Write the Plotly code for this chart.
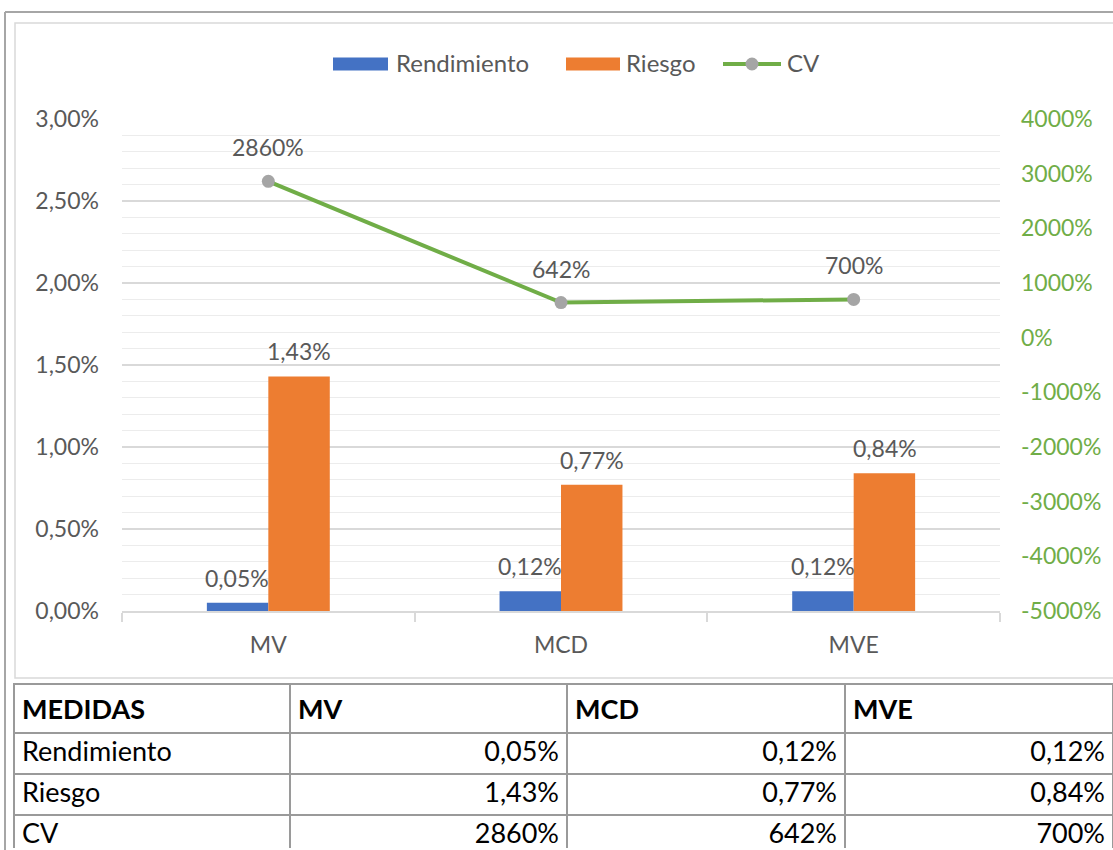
import plotly.graph_objects as go

# ---- data ----
categories = ["MV", "MCD", "MVE"]
series_names = ["Rendimiento", "Riesgo", "CV"]
rendimiento = [0.05, 0.12, 0.12]      # percent
riesgo = [1.43, 0.77, 0.84]           # percent
cv = [2860, 642, 700]                 # percent
left_ticks = [0, 0.5, 1.0, 1.5, 2.0, 2.5, 3.0]                        # percent
right_ticks = [-5000, -4000, -3000, -2000, -1000, 0, 1000, 2000, 3000, 4000]  # percent
table_header = ["MEDIDAS"] + categories

W, H = 1113, 850
BLUE, ORANGE, GREEN, GREY_MK = "#4472C4", "#ED7D31", "#70AD47", "#A5A5A5"
TXT = "#595959"
FONT = "Lato"


def px_x(p):
    return p / W


def px_y(p):
    return 1 - p / H


def fmt2(v):
    return f"{v:.2f}%".replace(".", ",")


def fmt0(v):
    return f"{v:.0f}%"


fig = go.Figure()

fig.add_trace(go.Bar(name=series_names[0], x=categories, y=[v / 100 for v in rendimiento],
                     marker=dict(color=BLUE, line=dict(width=0)), yaxis="y", showlegend=False))
fig.add_trace(go.Bar(name=series_names[1], x=categories, y=[v / 100 for v in riesgo],
                     marker=dict(color=ORANGE, line=dict(width=0)), yaxis="y", showlegend=False))
fig.add_trace(go.Scatter(name=series_names[2], x=categories, y=[v / 100 for v in cv], yaxis="y2",
                         mode="lines+markers", line=dict(color=GREEN, width=4),
                         marker=dict(color=GREY_MK, size=13, line=dict(width=0)), showlegend=False))

lab_font = dict(family=FONT, size=23, color=TXT)
annotations = []
for c, v in zip(categories, rendimiento):
    annotations.append(dict(x=c, y=v / 100, xref="x", yref="y", text=fmt2(v), showarrow=False,
                            xshift=-31, yshift=25, font=lab_font))
for c, v in zip(categories, riesgo):
    annotations.append(dict(x=c, y=v / 100, xref="x", yref="y", text=fmt2(v), showarrow=False,
                            xshift=31, yshift=25, font=lab_font))
for c, v in zip(categories, cv):
    annotations.append(dict(x=c, y=v / 100, xref="x", yref="y2", text=fmt0(v), showarrow=False,
                            yshift=34, font=lab_font))

# ---- legend (drawn) ----
LEG_Y = 64
leg_text_x = [394, 624, 785]
for name, tx in zip(series_names, leg_text_x):
    annotations.append(dict(x=px_x(tx), y=px_y(LEG_Y - 1), xref="paper", yref="paper", text=name,
                            showarrow=False, xanchor="left", yanchor="middle",
                            font=dict(family=FONT, size=24, color=TXT)))

shapes = [
    # outer frame (left + top)
    dict(type="line", xref="paper", yref="paper", x0=px_x(5), x1=px_x(5), y0=px_y(12), y1=px_y(860),
         line=dict(color="#a6a6a6", width=2)),
    dict(type="line", xref="paper", yref="paper", x0=px_x(5), x1=px_x(1130), y0=px_y(12), y1=px_y(12),
         line=dict(color="#a6a6a6", width=2)),
    # inner chart frame
    dict(type="rect", xref="paper", yref="paper", x0=px_x(15), x1=px_x(1130), y0=px_y(23), y1=px_y(678),
         line=dict(color="#d9d9d9", width=1.5), layer="below"),
    # legend symbols
    dict(type="rect", xref="paper", yref="paper", x0=px_x(333), x1=px_x(388), y0=px_y(LEG_Y - 6.5),
         y1=px_y(LEG_Y + 6.5), fillcolor=BLUE, line=dict(width=0)),
    dict(type="rect", xref="paper", yref="paper", x0=px_x(566), x1=px_x(620), y0=px_y(LEG_Y - 6.5),
         y1=px_y(LEG_Y + 6.5), fillcolor=ORANGE, line=dict(width=0)),
    dict(type="line", xref="paper", yref="paper", x0=px_x(723), x1=px_x(781), y0=px_y(LEG_Y),
         y1=px_y(LEG_Y), line=dict(color=GREEN, width=4)),
    dict(type="circle", xref="paper", yref="paper", x0=px_x(745.5), x1=px_x(758.5), y0=px_y(LEG_Y - 6.5),
         y1=px_y(LEG_Y + 6.5), fillcolor=GREY_MK, line=dict(width=0)),
]

# ---- table ----
cols = [list(series_names)]
for i in range(len(categories)):
    cols.append([fmt2(rendimiento[i]), fmt2(riesgo[i]), fmt0(cv[i])])

fig.add_trace(go.Table(
    domain=dict(x=[px_x(14), 1.0], y=[px_y(849), px_y(684)]),
    columnwidth=[276, 277, 278, 268],
    header=dict(values=[f"<b>{h}</b>" for h in table_header], align="left", height=41,
                fill=dict(color="white"), line=dict(color="#9a9a9a", width=2),
                font=dict(family=FONT, size=27, color="black")),
    cells=dict(values=cols, align=["left", "right", "right", "right"], height=41,
               fill=dict(color="white"), line=dict(color="#9a9a9a", width=2),
               font=dict(family=FONT, size=27, color="black")),
))

fig.update_layout(
    width=W, height=H, margin=dict(l=0, r=0, t=0, b=0, autoexpand=False),
    paper_bgcolor="white", plot_bgcolor="white",
    separators=",.",
    barmode="group", bargap=0.58, bargroupgap=0,
    font=dict(family=FONT, size=23, color=TXT),
    showlegend=False,
    xaxis=dict(domain=[px_x(122), px_x(1000)], type="category", tickson="boundaries",
               ticks="outside", ticklen=9, tickcolor="#d9d9d9", tickwidth=1.5,
               showline=True, linecolor="#d9d9d9", linewidth=1.5, showgrid=False,
               ticklabelstandoff=13, automargin=False, tickfont=dict(family=FONT, size=23, color=TXT)),
    yaxis=dict(domain=[px_y(611), px_y(119)], range=[0, 0.03],
               tickvals=[t / 100 for t in left_ticks], ticktext=[fmt2(t) for t in left_ticks],
               showgrid=True, gridcolor="#d9d9d9", gridwidth=1.5, zeroline=False,
               showline=False, ticks="", ticklabelstandoff=22, automargin=False,
               minor=dict(dtick=0.001, showgrid=True, gridcolor="#ececec", gridwidth=1),
               tickfont=dict(family=FONT, size=23, color=TXT)),
    yaxis2=dict(overlaying="y", side="right", anchor="x", range=[-50, 40],
                tickvals=[t / 100 for t in right_ticks], ticktext=[fmt0(t) for t in right_ticks],
                showgrid=False, zeroline=False, showline=False, ticks="", automargin=False,
                ticklabelstandoff=20, tickfont=dict(family=FONT, size=23, color=GREEN)),
    annotations=annotations,
    shapes=shapes,
)

fig.write_html("out.html", config={"displayModeBar": False},
               post_script="document.body.style.margin='0';document.body.style.overflow='hidden';")
